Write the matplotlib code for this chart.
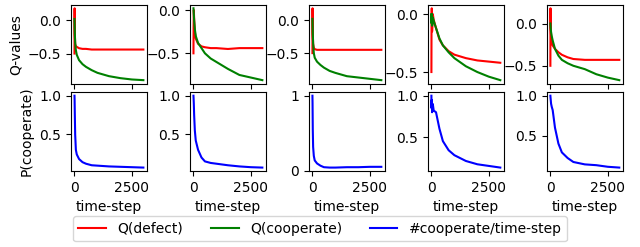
import matplotlib
matplotlib.use('Agg')
import matplotlib.pyplot as plt

T = [0, 5, 15, 30, 60, 100, 200, 350, 500, 750, 1000, 1500, 2000, 2500, 3000]

# Q(defect) per run
q_defect = [
    [-0.5, 0.18, -0.2, -0.36, -0.39, -0.40, -0.42, -0.43, -0.43, -0.44, -0.44, -0.44, -0.44, -0.44, -0.44],
    [-0.5, -0.2, 0.0, -0.1, -0.25, -0.33, -0.39, -0.42, -0.43, -0.44, -0.44, -0.45, -0.44, -0.44, -0.44],
    [-0.5, 0.18, -0.2, -0.36, -0.42, -0.44, -0.45, -0.45, -0.45, -0.45, -0.45, -0.45, -0.45, -0.45, -0.45],
    [-0.5, -0.1, 0.05, -0.15, 0.0, -0.05, -0.12, -0.22, -0.27, -0.32, -0.35, -0.38, -0.40, -0.41, -0.42],
    [-0.5, 0.18, -0.05, -0.15, -0.22, -0.26, -0.3, -0.34, -0.37, -0.4, -0.42, -0.43, -0.43, -0.43, -0.43],
]

# Q(cooperate) per run
q_coop = [
    [0.02, -0.05, -0.2, -0.33, -0.45, -0.52, -0.6, -0.66, -0.7, -0.75, -0.79, -0.84, -0.87, -0.89, -0.9],
    [0.02, 0.0, -0.05, -0.12, -0.22, -0.3, -0.38, -0.44, -0.5, -0.56, -0.6, -0.68, -0.75, -0.78, -0.81],
    [0.02, -0.05, -0.2, -0.35, -0.5, -0.57, -0.63, -0.68, -0.72, -0.77, -0.8, -0.85, -0.87, -0.89, -0.91],
    [0.0, -0.08, 0.0, -0.1, -0.03, -0.06, -0.12, -0.21, -0.27, -0.33, -0.38, -0.45, -0.5, -0.54, -0.57],
    [0.0, -0.02, -0.06, -0.1, -0.15, -0.2, -0.3, -0.38, -0.43, -0.47, -0.5, -0.54, -0.6, -0.64, -0.67],
]

# #cooperate/time-step per run
p_coop = [
    [1.0, 0.95, 0.75, 0.5, 0.3, 0.24, 0.18, 0.14, 0.12, 0.1, 0.095, 0.085, 0.08, 0.075, 0.07],
    [1.0, 0.97, 0.9, 0.75, 0.55, 0.42, 0.3, 0.2, 0.15, 0.13, 0.12, 0.1, 0.085, 0.075, 0.07],
    [1.0, 0.9, 0.55, 0.32, 0.2, 0.14, 0.1, 0.07, 0.05, 0.045, 0.045, 0.05, 0.05, 0.055, 0.055],
    [1.0, 0.85, 0.95, 0.8, 0.9, 0.82, 0.8, 0.6, 0.45, 0.34, 0.28, 0.21, 0.17, 0.15, 0.13],
    [1.0, 0.98, 0.95, 0.9, 0.86, 0.82, 0.6, 0.4, 0.29, 0.22, 0.17, 0.14, 0.13, 0.11, 0.10],
]

fig, axes = plt.subplots(2, 5, sharex=True, figsize=(6.4, 2.47), dpi=100)
fig.subplots_adjust(left=0.111, right=0.973, top=0.981, bottom=0.307,
                    wspace=0.57, hspace=0.106)

for i in range(5):
    ax = axes[0, i]
    ax.plot(T, q_defect[i], color='red', label='Q(defect)')
    ax.plot(T, q_coop[i], color='green', label='Q(cooperate)')
    ax2 = axes[1, i]
    ax2.plot(T, p_coop[i], color='blue', label='#cooperate/time-step')
    ax2.set_xlabel('time-step')
    ax2.set_xticks([0, 2500])

# third run's lower panel only gets 0 and 1 as ticks
axes[1, 2].set_yticks([0, 1])

axes[0, 0].set_ylabel('Q-values')
axes[1, 0].set_ylabel('P(cooperate)')

handles = axes[0, 0].get_lines() + axes[1, 0].get_lines()
fig.legend(handles, [h.get_label() for h in handles], loc='lower center',
           ncol=3, bbox_to_anchor=(0.5, -0.005))

fig.savefig('out.png')
